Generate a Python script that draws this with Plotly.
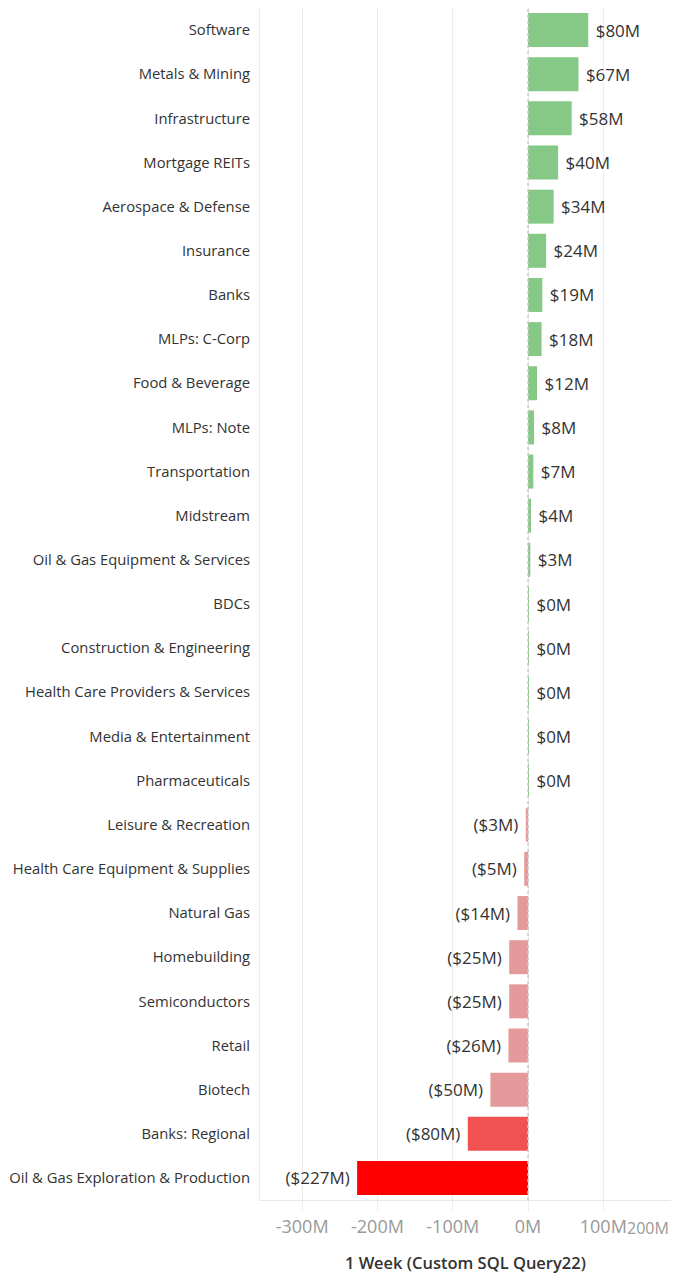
import plotly.graph_objects as go

categories = [
    "Software", "Metals & Mining", "Infrastructure", "Mortgage REITs",
    "Aerospace & Defense", "Insurance", "Banks", "MLPs: C-Corp",
    "Food & Beverage", "MLPs: Note", "Transportation", "Midstream",
    "Oil & Gas Equipment & Services", "BDCs", "Construction & Engineering",
    "Health Care Providers & Services", "Media & Entertainment", "Pharmaceuticals",
    "Leisure & Recreation", "Health Care Equipment & Supplies", "Natural Gas",
    "Homebuilding", "Semiconductors", "Retail", "Biotech", "Banks: Regional",
    "Oil & Gas Exploration & Production",
]
# 1 week flows, $M
values = [80, 67, 58, 40, 34, 24, 19, 18, 12, 8, 7, 4, 3, 0.4, 0.3, 0.3, 0.2, 0.2,
          -3, -5, -14, -25, -25, -26, -50, -80, -227]

tick_vals = [-300, -200, -100, 0, 100, 200]
tick_text = ["-300M", "-200M", "-100M", "0M", "100M", "200M"]


def fmt(v):
    r = int(round(abs(v)))
    # a space keeps the label off the bar end
    return f" ${r}M" if v >= 0 else f"(${r}M) "


def colour(v):
    if v >= 0:
        return "#86c886"
    if v <= -200:
        return "#ff0000"
    if v <= -70:
        return "#f05252"
    return "#e49a9a"


font = "Open Sans"

fig = go.Figure()
fig.add_trace(go.Bar(
    y=categories,
    x=values,
    orientation="h",
    marker=dict(color=[colour(v) for v in values], line=dict(width=0)),
    text=[fmt(v) for v in values],
    textposition="outside",
    textfont=dict(size=17, color="#333333", family=font),
    cliponaxis=False,
    hoverinfo="skip",
))

# dashed zero line
fig.add_shape(type="line", x0=0, x1=0, y0=0, y1=1, xref="x", yref="paper",
              line=dict(color="#c8c8c8", width=1.5, dash="dot"), layer="above")

# last tick label sits flush with the right edge
fig.add_annotation(x=1, xref="paper", xanchor="right", y=0, yref="paper",
                   yanchor="top", yshift=-15, text=tick_text[-1], showarrow=False,
                   font=dict(size=16, color="#999999", family=font))

# the page body has an 8px margin and caps the width at 663px
fig.update_layout(
    width=663, height=1267,
    margin=dict(l=252, r=0, t=0, b=75),
    paper_bgcolor="white", plot_bgcolor="white",
    bargap=0.23,
    showlegend=False,
    font=dict(family=font, color="#333333"),
    xaxis=dict(
        range=[-356, 189.9],
        tickvals=tick_vals,
        ticktext=tick_text[:-1] + [""],
        tickfont=dict(size=18, color="#999999"),
        showgrid=True, gridcolor="#ececec", gridwidth=1,
        zeroline=False,
        showline=True, linecolor="#e8e8e8", linewidth=1,
        ticks="outside", ticklen=10, tickcolor="#ececec",
        title=dict(text="1 Week (Custom SQL Query22)",
                   font=dict(size=16.5, color="#333333", family="Open Sans Semibold, Open Sans"),
                   standoff=20),
        automargin=False,
        fixedrange=True,
    ),
    yaxis=dict(
        autorange="reversed",
        tickfont=dict(size=14.8, color="#333333"),
        showgrid=False, zeroline=False,
        showline=True, linecolor="#ececec", linewidth=1,
        ticks="", ticklabelstandoff=6,
        automargin=False,
        fixedrange=True,
    ),
)

fig.write_html("out.html")
